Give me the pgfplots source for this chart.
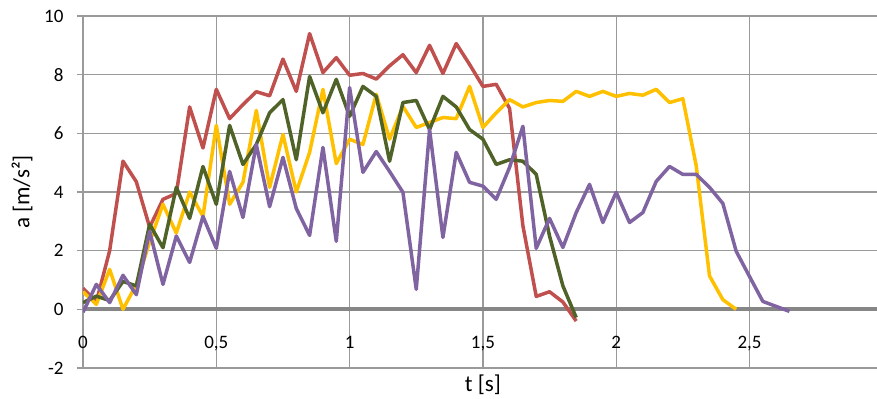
\documentclass[border=0pt]{standalone}
\usepackage{fontspec}
\setmainfont{Carlito}
\usepackage{pgfplots}
\pgfplotsset{compat=1.18}
\definecolor{cred}{HTML}{C0504D}
\definecolor{cyellow}{HTML}{FFC000}
\definecolor{cgreen}{HTML}{4F6228}
\definecolor{cpurple}{HTML}{8064A2}
\definecolor{gridgray}{HTML}{9A9A9A}
\definecolor{zerogray}{HTML}{868686}
\begin{document}
\fontsize{19bp}{22bp}\selectfont
\begin{tikzpicture}
\path[use as bounding box] (-83bp,-31bp) rectangle (794bp,368bp);
\begin{axis}[
  scale only axis, width=799.8bp, height=352bp,
  xmin=0, xmax=3, ymin=-2, ymax=10,
  xtick={0,0.5,1,1.5,2,2.5,3}, xticklabels={0,{0,5},1,{1,5},2,{2,5},3},
  ytick={-2,0,2,4,6,8,10}, yticklabels={-2,0,2,4,6,8,10},
  grid=major, grid style={draw=gridgray, line width=1.2bp},
  axis line style={draw=none},
  tick align=outside, major tick length=6bp,
  xtick style={draw=none}, ytick style={draw=gridgray, line width=1.2bp},
  ticklabel style={font=\fontsize{19bp}{22bp}\selectfont},
  xticklabel style={yshift=44bp},
  yticklabel style={xshift=-7bp},
  extra y ticks={0}, extra y tick labels={},
  extra y tick style={grid style={draw=zerogray, line width=4bp}},
  xlabel={t [s]}, ylabel={a [m/s²]},
  label style={font=\fontsize{23bp}{26bp}\selectfont},
  xlabel style={at={(axis description cs:0.5,0)}, anchor=north, yshift=0bp},
  ylabel style={at={(axis description cs:0,0.5)}, anchor=south, rotate=0, yshift=44bp},
  every axis plot/.append style={line width=3.5bp, no markers, line join=round},
]
\addplot[cred] coordinates {
(0,0.72)(0.05,0.25)(0.1,2.0)(0.15,5.05)(0.2,4.35)(0.25,2.8)(0.3,3.75)(0.35,3.95)(0.4,6.9)(0.45,5.5)
(0.5,7.5)(0.55,6.5)(0.6,6.98)(0.65,7.42)(0.7,7.28)(0.75,8.53)(0.8,7.43)(0.85,9.4)(0.9,8.07)(0.95,8.58)
(1.0,7.98)(1.05,8.04)(1.1,7.85)(1.15,8.3)(1.2,8.68)(1.25,8.07)(1.3,9.0)(1.35,8.04)(1.4,9.06)(1.45,8.35)
(1.5,7.6)(1.55,7.67)(1.6,6.85)(1.65,2.85)(1.7,0.44)(1.75,0.6)(1.8,0.25)(1.85,-0.4)};
\addplot[cyellow] coordinates {
(0,0.6)(0.05,0.17)(0.1,1.36)(0.15,0.0)(0.2,0.85)(0.25,2.3)(0.3,3.58)(0.35,2.6)(0.4,4.0)(0.45,3.17)
(0.5,6.27)(0.55,3.58)(0.6,4.33)(0.65,6.78)(0.7,4.16)(0.75,5.96)(0.8,4.0)(0.85,5.35)(0.9,7.5)(0.95,4.97)
(1.0,5.8)(1.05,5.62)(1.1,7.33)(1.15,5.8)(1.2,6.92)(1.25,6.2)(1.3,6.37)(1.35,6.54)(1.4,6.5)(1.45,7.6)
(1.5,6.2)(1.55,6.7)(1.6,7.15)(1.65,6.9)(1.7,7.05)(1.75,7.12)(1.8,7.09)(1.85,7.43)(1.9,7.26)(1.95,7.43)
(2.0,7.26)(2.05,7.36)(2.1,7.3)(2.15,7.5)(2.2,7.05)(2.25,7.18)(2.3,4.9)(2.35,1.14)(2.4,0.33)(2.45,0.0)};
\addplot[cgreen] coordinates {
(0,0.23)(0.05,0.45)(0.1,0.3)(0.15,0.95)(0.2,0.8)(0.25,2.9)(0.3,2.1)(0.35,4.16)(0.4,3.1)(0.45,4.87)
(0.5,3.58)(0.55,6.27)(0.6,4.94)(0.65,5.62)(0.7,6.7)(0.75,7.15)(0.8,5.1)(0.85,7.94)(0.9,6.7)(0.95,7.84)
(1.0,6.58)(1.05,7.6)(1.1,7.26)(1.15,5.05)(1.2,7.05)(1.25,7.12)(1.3,6.13)(1.35,7.26)(1.4,6.9)(1.45,6.13)
(1.5,5.8)(1.55,4.94)(1.6,5.1)(1.65,5.05)(1.7,4.6)(1.75,2.5)(1.8,0.8)(1.85,-0.28)};
\addplot[cpurple] coordinates {
(0,-0.1)(0.05,0.85)(0.1,0.23)(0.15,1.16)(0.2,0.5)(0.25,2.66)(0.3,0.85)(0.35,2.5)(0.4,1.6)(0.45,3.17)
(0.5,2.08)(0.55,4.7)(0.6,3.13)(0.65,5.62)(0.7,3.5)(0.75,5.18)(0.8,3.44)(0.85,2.52)(0.9,5.52)(0.95,2.32)
(1.0,7.56)(1.05,4.67)(1.1,5.38)(1.15,4.7)(1.2,3.99)(1.25,0.68)(1.3,6.13)(1.35,2.45)(1.4,5.35)(1.45,4.33)
(1.5,4.2)(1.55,3.75)(1.6,4.84)(1.65,6.24)(1.7,2.08)(1.75,3.1)(1.8,2.11)(1.85,3.3)(1.9,4.26)(1.95,2.96)
(2.0,3.99)(2.05,2.96)(2.1,3.3)(2.15,4.36)(2.2,4.87)(2.25,4.6)(2.3,4.6)(2.35,4.16)(2.4,3.61)(2.45,1.98)
(2.5,1.12)(2.55,0.27)(2.6,0.1)(2.65,-0.07)};
\end{axis}
\end{tikzpicture}
\end{document}
